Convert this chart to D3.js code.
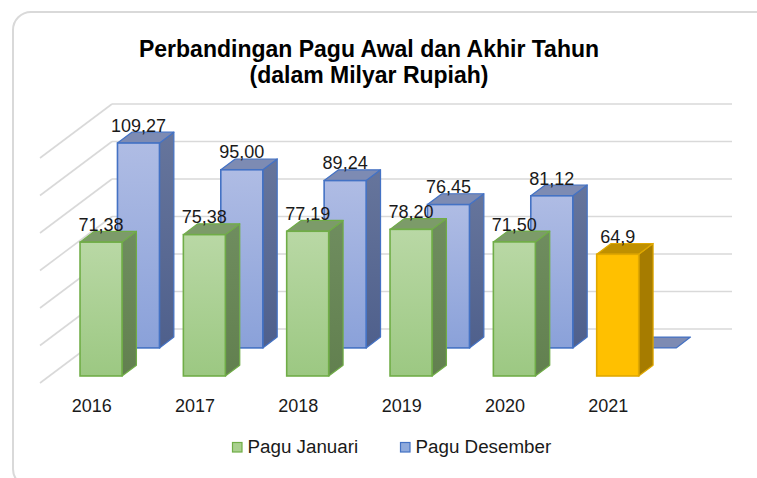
<!DOCTYPE html>
<html>
<head>
<meta charset="utf-8">
<script src="https://cdn.jsdelivr.net/npm/d3@7/dist/d3.min.js"></script>
<style>
  html, body { margin: 0; padding: 0; background: #ffffff; }
  svg { display: block; }
  text { font-family: "Liberation Sans", Arial, sans-serif; }
</style>
</head>
<body>
<svg id="chart" width="757" height="478"></svg>
<script>
// ---- data ----
const years = ["2016", "2017", "2018", "2019", "2020", "2021"];
const paguJanuari = [71.38, 75.38, 77.19, 78.20, 71.50, 64.9];
const paguDesember = [109.27, 95.00, 89.24, 76.45, 81.12, 0];
const januariLabels = ["71,38", "75,38", "77,19", "78,20", "71,50", "64,9"];
const desemberLabels = ["109,27", "95,00", "89,24", "76,45", "81,12", ""];
const gridTicks = [0, 20, 40, 60, 80, 100, 120];
const seriesNames = ["Pagu Januari", "Pagu Desember"];
const titleLines = ["Perbandingan Pagu Awal dan Akhir Tahun", "(dalam Milyar Rupiah)"];

// ---- layout ----
const W = 757, H = 478;
const svg = d3.select("#chart");
const DX = 72, DY = 54;            // oblique depth offset (front -> back wall)
const x = d3.scaleBand().domain(years).range([40, 660]);
const y = d3.scaleLinear().domain([0, 120]).range([383, 158]);
const proj = (px, v, z) => [px + DX * z, y(v) - DY * z];
const faceW = 42;

// frame
svg.append("rect").attr("x", 13).attr("y", 12).attr("width", 760).attr("height", 475)
  .attr("rx", 18).attr("fill", "#fff").attr("stroke", "#d9d9d9").attr("stroke-width", 2);

// defs: gradients
const defs = svg.append("defs");
function grad(id, c1, c2) {
  const g = defs.append("linearGradient").attr("id", id).attr("x1", 0).attr("y1", 0).attr("x2", 0).attr("y2", 1);
  g.append("stop").attr("offset", "0%").attr("stop-color", c1);
  g.append("stop").attr("offset", "100%").attr("stop-color", c2);
}
grad("gFront", "#b9d8a5", "#9cc882");
grad("gSide", "#6f8d5f", "#62804f");
grad("bFront", "#afbce4", "#8aa1d9");
grad("bSide", "#66759c", "#4f608c");

// title
svg.append("g").selectAll("text").data(titleLines).join("text")
  .attr("x", 369).attr("y", (d, i) => 57 + i * 26)
  .attr("text-anchor", "middle").attr("font-size", 23).attr("font-weight", "bold")
  .attr("fill", "#000").text(d => d);

// gridlines: back wall + left wall
const grid = svg.append("g").attr("stroke", "#d9d9d9").attr("stroke-width", 1.6).attr("fill", "none");
grid.selectAll("line.back").data(gridTicks).join("line").attr("class", "back")
  .attr("x1", v => proj(x.range()[0], v, 1)[0]).attr("y1", v => proj(x.range()[0], v, 1)[1])
  .attr("x2", v => proj(x.range()[1], v, 1)[0]).attr("y2", v => proj(x.range()[1], v, 1)[1]);
grid.selectAll("line.side").data(gridTicks).join("line").attr("class", "side")
  .attr("x1", v => proj(x.range()[0], v, 0)[0]).attr("y1", v => proj(x.range()[0], v, 0)[1])
  .attr("x2", v => proj(x.range()[0], v, 1)[0]).attr("y2", v => proj(x.range()[0], v, 1)[1]);

// bars
function drawBars(values, labels, z0, z1, styleFn, cls) {
  const g = svg.append("g").attr("class", cls);
  const items = years.map((yr, i) => ({ yr, v: values[i], label: labels[i], i }));
  const bar = g.selectAll("g.bar").data(items).join("g").attr("class", "bar");
  bar.each(function (d) {
    const s = styleFn(d);
    const cx = x(d.yr) + x.bandwidth() / 2;
    const L = cx - faceW / 2, R = cx + faceW / 2;
    const sel = d3.select(this);
    const P = (px, v, z) => proj(px, v, z).join(",");
    // side face
    if (d.v > 0) {
      sel.append("polygon")
        .attr("points", [P(R, 0, z0), P(R, d.v, z0), P(R, d.v, z1), P(R, 0, z1)].join(" "))
        .attr("fill", s.side).attr("stroke", s.stroke).attr("stroke-width", 1.2).attr("stroke-linejoin", "round");
    }
    // top face
    sel.append("polygon")
      .attr("points", [P(L, d.v, z0), P(R, d.v, z0), P(R, d.v, z1), P(L, d.v, z1)].join(" "))
      .attr("fill", s.top).attr("stroke", s.stroke).attr("stroke-width", 1.2).attr("stroke-linejoin", "round");
    // front face
    if (d.v > 0) {
      const a = proj(L, d.v, z0), b = proj(R, 0, z0);
      sel.append("rect").attr("x", a[0]).attr("y", a[1]).attr("width", b[0] - a[0]).attr("height", b[1] - a[1])
        .attr("fill", s.front).attr("stroke", s.stroke).attr("stroke-width", 1.6);
    }
    if (d.label) {
      const t = proj(cx, d.v, z1);
      sel.append("text").attr("x", proj(cx, d.v, z0)[0]).attr("y", t[1] - 0.5)
        .attr("text-anchor", "middle").attr("font-size", 18).attr("fill", "#1a1a1a").text(d.label);
    }
  });
}

drawBars(paguDesember, desemberLabels, 0.65, 0.85, () => ({
  front: "url(#bFront)", side: "url(#bSide)", top: "#7d8bb3", stroke: "#4472c4"
}), "desember");

drawBars(paguJanuari, januariLabels, 0.13, 0.33, d => d.yr === "2021" ? ({
  front: "#ffc000", side: "#a67c00", top: "#bf9000", stroke: "#e0a800"
}) : ({
  front: "url(#gFront)", side: "url(#gSide)", top: "#7c9b69", stroke: "#70ad47"
}), "januari");

// category labels
svg.append("g").selectAll("text").data(years).join("text")
  .attr("x", d => x(d) + x.bandwidth() / 2).attr("y", 412)
  .attr("text-anchor", "middle").attr("font-size", 18).attr("fill", "#1a1a1a").text(d => d);

// legend
const legendItems = [
  { name: seriesNames[0], fill: "#a9d08e", stroke: "#70ad47", x: 232 },
  { name: seriesNames[1], fill: "#8faadc", stroke: "#4472c4", x: 400 }
];
const lg = svg.append("g").selectAll("g").data(legendItems).join("g");
lg.append("rect").attr("x", d => d.x + 0.5).attr("y", 442.5).attr("width", 9.5).attr("height", 9.5)
  .attr("fill", d => d.fill).attr("stroke", d => d.stroke).attr("stroke-width", 1.2);
lg.append("text").attr("x", d => d.x + 15.5).attr("y", 452.5).attr("font-size", 18.8)
  .attr("fill", "#1a1a1a").text(d => d.name);
</script>
</body>
</html>
